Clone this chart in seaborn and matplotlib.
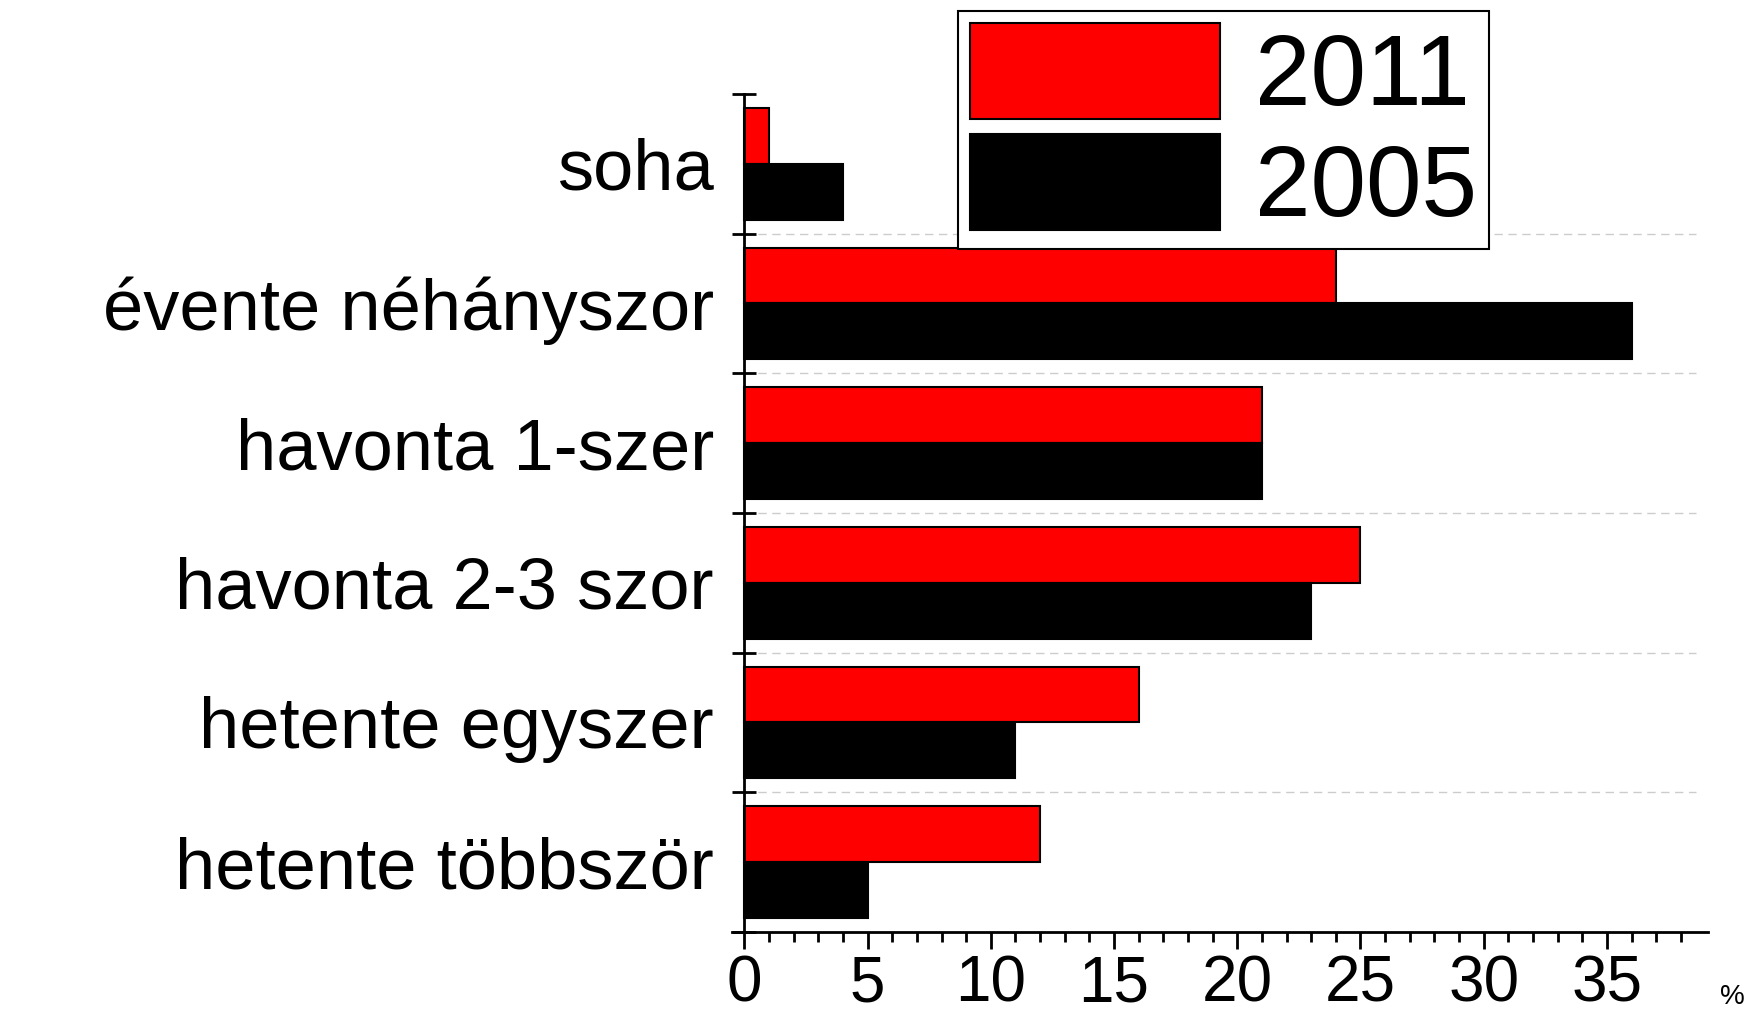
import pandas as pd
import matplotlib.pyplot as plt
import seaborn as sns
from matplotlib.ticker import FixedLocator

# data (%)
categories = ['soha', 'évente néhányszor', 'havonta 1-szer',
              'havonta 2-3 szor', 'hetente egyszer', 'hetente többször']
years = ['2011', '2005']
values_2011 = [1, 24, 21, 25, 16, 12]
values_2005 = [4, 36, 21, 23, 11, 5]
bar_colors = ['#ff0000', '#000000']
x_major = [0, 5, 10, 15, 20, 25, 30, 35]
x_minor = list(range(0, 39))

sns.set_style('white')
plt.rcParams['font.family'] = ['Liberation Sans', 'DejaVu Sans']
plt.rcParams['text.color'] = 'black'

df = pd.DataFrame({
    'kategoria': categories * 2,
    'ertek': values_2011 + values_2005,
    'ev': [years[0]] * len(categories) + [years[1]] * len(categories),
})

fig = plt.figure(figsize=(17.5, 10.16), dpi=100)
ax = fig.add_axes([0.4183, 0.0827, 0.5577, 0.8248])

sns.barplot(data=df, y='kategoria', x='ertek', hue='ev', hue_order=years,
            order=categories, palette=bar_colors, orient='h', width=0.8,
            saturation=1, errorbar=None, edgecolor='black', linewidth=1.5,
            ax=ax)

ax.set_xlim(-0.5, 39.1)
ax.set_ylim(len(categories) - 0.5, -0.5)
ax.set_xlabel('')
ax.set_ylabel('')

# spines
ax.spines['top'].set_visible(False)
ax.spines['right'].set_visible(False)
ax.spines['left'].set_position(('data', 0))
for s in ['left', 'bottom']:
    ax.spines[s].set_linewidth(2)
    ax.spines[s].set_color('black')

# x ticks
ax.xaxis.set_major_locator(FixedLocator(x_major))
ax.xaxis.set_minor_locator(FixedLocator(x_minor))
ax.tick_params(axis='x', which='both', bottom=True)
ax.tick_params(axis='x', which='major', direction='out', length=12, width=2,
               pad=4, labelsize=46, colors='black')
ax.tick_params(axis='x', which='minor', direction='out', length=7, width=2,
               colors='black')

# y ticks: labels at category centres, tick marks at the boundaries
ax.yaxis.set_minor_locator(FixedLocator([i - 0.5 for i in range(len(categories) + 1)]))
ax.tick_params(axis='y', which='both', left=True)
ax.tick_params(axis='y', which='major', length=0, pad=22, labelsize=52,
               colors='black')
ax.tick_params(axis='y', which='minor', direction='inout', length=17, width=2,
               colors='black')

# dashed separators between categories
for i in range(len(categories) - 1):
    ax.hlines(i + 0.5, 0, 38.6, colors='#cccccc', linestyles=(0, (6, 4)),
              linewidth=1, zorder=0)

# legend
handles, labels = ax.get_legend_handles_labels()
leg = ax.legend(handles, labels, loc='upper left',
                bbox_to_anchor=(958 / 1750, 1 - 11 / 1016),
                bbox_transform=fig.transFigure, fontsize=72, frameon=True,
                fancybox=False, edgecolor='black', framealpha=1,
                handlelength=2.5, handleheight=1.1, handletextpad=0.35,
                borderpad=0.12, labelspacing=0.08, borderaxespad=0)
leg.get_frame().set_linewidth(1.5)
for p in leg.get_patches():
    p.set_edgecolor('black')
    p.set_linewidth(1.5)
for t in leg.get_texts():
    t.set_color('black')

fig.text(1732 / 1750, 1 - 1010 / 1016, '%', ha='center', va='bottom',
         fontsize=20)

fig.savefig('out.png', dpi=100)
